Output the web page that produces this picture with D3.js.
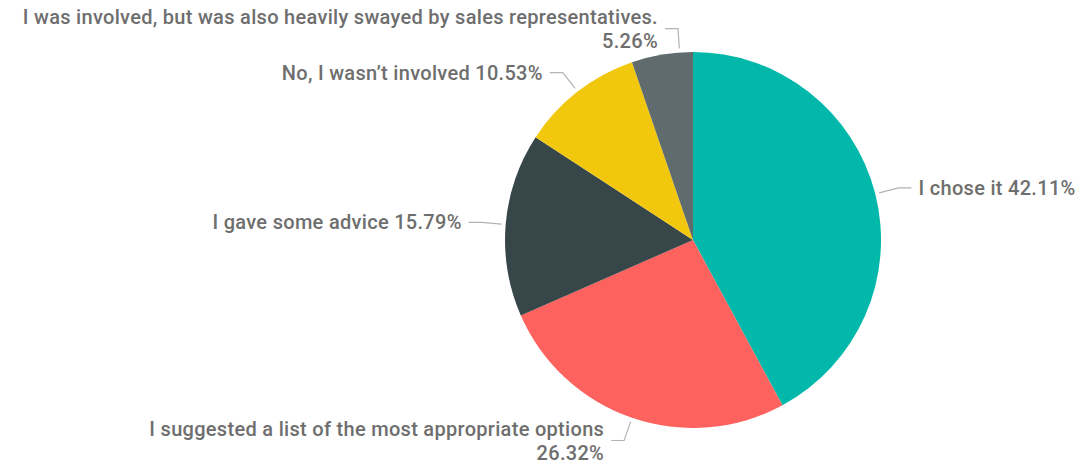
<!DOCTYPE html>
<html>
<head>
<meta charset="utf-8">
<script src="https://cdn.jsdelivr.net/npm/d3@7"></script>
<style>
  html, body { margin: 0; padding: 0; background: #fff; }
  svg { display: block; }
  .lbl { font-family: Roboto, "DejaVu Sans", sans-serif; font-size: 20px; font-weight: 500; letter-spacing: 0.3px; fill: #6e6e6e; }
</style>
</head>
<body>
<svg id="chart" width="1078" height="464"></svg>
<script>
// Survey answers, clockwise from 12 o'clock
const categories = [
  "I chose it",
  "I suggested a list of the most appropriate options",
  "I gave some advice",
  "No, I wasn\u2019t involved",
  "I was involved, but was also heavily swayed by sales representatives."
];
const percentages = [42.11, 26.32, 15.79, 10.53, 5.26];
const percentLabels = ["42.11%", "26.32%", "15.79%", "10.53%", "5.26%"];
const sliceColors = ["#01B8AA", "#FD625E", "#374649", "#F2C80F", "#5F6B6D"];

const width = 1078, height = 464;
const cx = 693, cy = 240, radius = 188;

// angular nudge (degrees) for leader lines that would otherwise crowd a neighbour
const leaderNudge = [0, 0, 0, 0, 5.4];

const svg = d3.select("#chart");
const g = svg.append("g").attr("transform", `translate(${cx},${cy})`);

const rows = categories.map((c, i) => ({ category: c, value: percentages[i], pct: percentLabels[i], color: sliceColors[i], i }));

const pie = d3.pie().sort(null).value(d => d.value);
const arcs = pie(rows);

const arc = d3.arc().innerRadius(0).outerRadius(radius);

g.selectAll("path.slice")
  .data(arcs)
  .join("path")
  .attr("class", "slice")
  .attr("d", arc)
  .attr("fill", d => d.data.color);

// leader lines + labels
const startArc = d3.arc().innerRadius(radius + 4).outerRadius(radius + 4);
const elbowArc = d3.arc().innerRadius(radius + 24).outerRadius(radius + 24);
const horiz = 13, gap = 7, lineH = 24, maxSingle = 450;

const labels = g.append("g");

arcs.forEach(d => {
  const nudge = leaderNudge[d.data.i] * Math.PI / 180;
  const mid = (d.startAngle + d.endAngle) / 2 + nudge;
  const a = { startAngle: mid, endAngle: mid };
  const p0 = startArc.centroid(a);
  const p1 = elbowArc.centroid(a);
  const right = Math.sin(mid) > 0;
  const p2 = [p1[0] + (right ? horiz : -horiz), p1[1]];

  labels.append("polyline")
    .attr("points", [p0, p1, p2].map(p => p.join(",")).join(" "))
    .attr("fill", "none")
    .attr("stroke", "#b3b3b3")
    .attr("stroke-width", 1.2);

  const tx = p2[0] + (right ? gap : -gap);
  const text = labels.append("text")
    .attr("class", "lbl")
    .attr("text-anchor", right ? "start" : "end")
    .attr("x", tx)
    .attr("y", p2[1])
    .attr("dy", "0.35em")
    .text(`${d.data.category} ${d.data.pct}`);

  if (text.node().getComputedTextLength() > maxSingle) {
    text.text(null).attr("dy", null);
    text.append("tspan").attr("x", tx).attr("y", p2[1] - lineH / 2).attr("dy", "0.35em").text(d.data.category);
    text.append("tspan").attr("x", tx).attr("y", p2[1] + lineH / 2).attr("dy", "0.35em").text(d.data.pct);
  }
});
</script>
</body>
</html>
